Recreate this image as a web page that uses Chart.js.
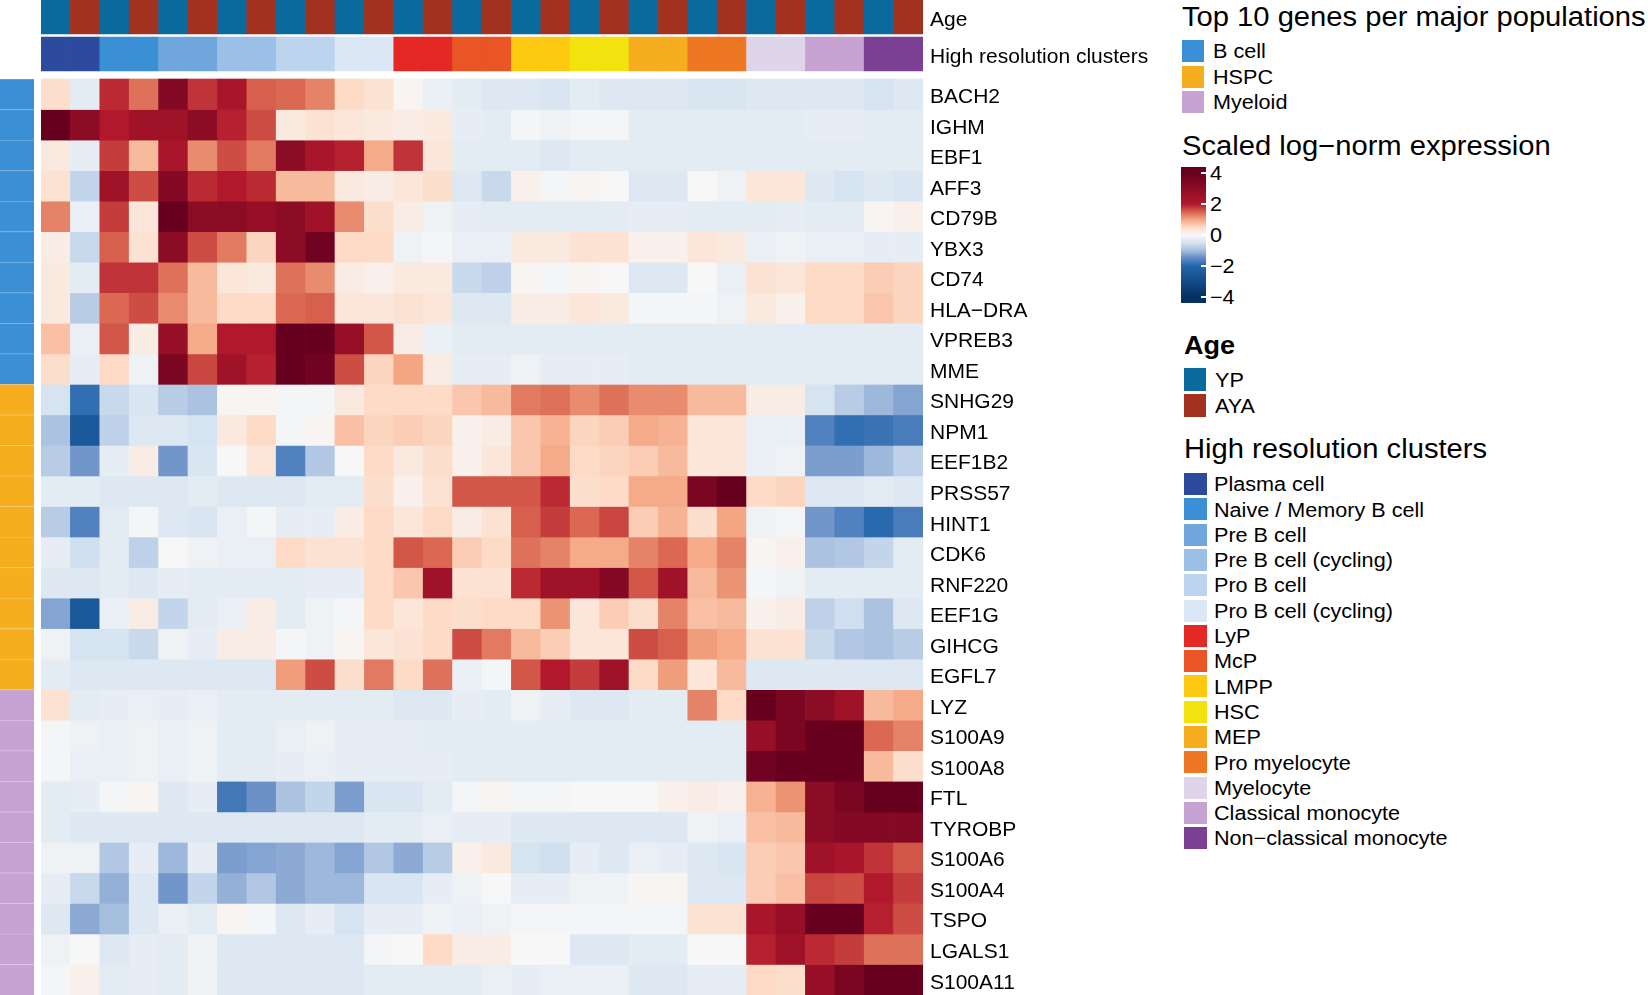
<!DOCTYPE html>
<html>
<head>
<meta charset="utf-8">
<script src="https://cdn.jsdelivr.net/npm/chart.js@4.4.1/dist/chart.umd.min.js"></script>
<style>
  body { margin: 0; background: #fff; font-family: "Liberation Sans", Arial, sans-serif; }
  #heat { position: absolute; left: 0; top: 0; }
  .lg { position: absolute; white-space: nowrap; line-height: 1; color: #000; transform: scaleX(1.08); transform-origin: 0 0; }
  .sw { position: absolute; }
</style>
</head>
<body>
<canvas id="heat" width="1160" height="995"></canvas>
<div id="legend"></div>
<script>
// genes (rows) and their major population
const genes = ['BACH2', 'IGHM', 'EBF1', 'AFF3', 'CD79B', 'YBX3', 'CD74', 'HLA\u2212DRA', 'VPREB3', 'MME',
  'SNHG29', 'NPM1', 'EEF1B2', 'PRSS57', 'HINT1', 'CDK6', 'RNF220', 'EEF1G', 'GIHCG', 'EGFL7',
  'LYZ', 'S100A9', 'S100A8', 'FTL', 'TYROBP', 'S100A6', 'S100A4', 'TSPO', 'LGALS1', 'S100A11'];
const populations = ['B cell', 'HSPC', 'Myeloid'];
const populationColors = ['#3A8FD5', '#F6AE1E', '#C7A3D4'];
const genePopulation = [0,0,0,0,0,0,0,0,0,0, 1,1,1,1,1,1,1,1,1,1, 2,2,2,2,2,2,2,2,2,2];

// columns: every cluster split in YP / AYA
const clusters = ['Plasma cell', 'Naive / Memory B cell', 'Pre B cell', 'Pre B cell (cycling)', 'Pro B cell',
  'Pro B cell (cycling)', 'LyP', 'McP', 'LMPP', 'HSC', 'MEP', 'Pro myelocyte', 'Myelocyte',
  'Classical monocyte', 'Non\u2212classical monocyte'];
const clusterColors = ['#2E4A9E', '#3A8FD5', '#6FA6DB', '#9BBFE6', '#BDD4EF', '#DCE7F5', '#E32826', '#E95525',
  '#FDCA11', '#F2E30F', '#F6AE1E', '#EE7723', '#DFD5EB', '#C7A3D4', '#7B3F94'];
const ages = ['YP', 'AYA'];
const ageColors = ['#0A6A9D', '#A2321F'];

// scaled log-norm expression, one row per gene, 30 columns
const expression = [
  [0.44,-0.31,1.88,1.38,3.25,1.81,2.25,1.5,1.44,1.25, 0.5,0.38,0.06,-0.19,-0.31,-0.38,-0.38,-0.44,-0.31,-0.38, -0.38,-0.38,-0.44,-0.44,-0.38,-0.38,-0.38,-0.38,-0.5,-0.38],
  [4.0,3.0,2.0,2.5,2.5,3.0,1.94,1.63,0.25,0.38, 0.31,0.25,0.19,0.25,-0.25,-0.31,-0.06,-0.13,-0.06,-0.06, -0.31,-0.31,-0.31,-0.31,-0.31,-0.31,-0.25,-0.25,-0.31,-0.31],
  [0.25,-0.25,1.75,0.81,2.25,1.19,1.63,1.31,3.0,2.25, 1.94,0.94,1.81,0.31,-0.31,-0.31,-0.31,-0.38,-0.31,-0.31, -0.31,-0.31,-0.31,-0.31,-0.31,-0.31,-0.31,-0.31,-0.31,-0.31],
  [0.38,-0.69,2.5,1.63,3.25,1.88,2.0,1.88,0.81,0.81, 0.25,0.19,0.31,0.44,-0.38,-0.63,0.13,-0.06,0.06,0.0, -0.38,-0.38,0.0,-0.13,0.31,0.31,-0.38,-0.5,-0.38,-0.44],
  [1.25,-0.19,1.75,0.31,4.0,3.0,3.0,2.75,3.0,2.5, 1.19,0.44,0.19,-0.13,-0.25,-0.31,-0.31,-0.31,-0.31,-0.31, -0.25,-0.25,-0.31,-0.31,-0.31,-0.25,-0.31,-0.31,0.06,0.13],
  [0.19,-0.63,1.5,0.38,3.0,1.63,1.31,0.56,3.0,3.75, 0.5,0.5,-0.13,-0.06,-0.19,-0.19,0.25,0.25,0.38,0.38, 0.13,0.13,0.31,0.25,-0.19,-0.13,-0.19,-0.19,-0.25,-0.25],
  [0.25,-0.31,1.81,1.81,1.38,0.81,0.31,0.25,1.38,1.19, 0.19,0.13,0.25,0.25,-0.63,-0.75,0.06,-0.06,0.06,0.0, -0.38,-0.38,0.0,-0.19,0.38,0.31,0.5,0.5,0.63,0.56],
  [0.25,-0.81,1.44,1.63,1.19,0.81,0.5,0.5,1.44,1.5, 0.31,0.31,0.38,0.31,-0.38,-0.38,0.19,0.19,0.31,0.25, -0.06,-0.06,-0.06,-0.13,0.25,0.13,0.5,0.5,0.69,0.56],
  [0.75,-0.19,1.56,0.19,2.75,0.94,2.0,2.0,4.0,4.0, 2.75,1.56,0.19,-0.19,-0.31,-0.31,-0.31,-0.31,-0.31,-0.31, -0.31,-0.31,-0.31,-0.31,-0.31,-0.31,-0.31,-0.31,-0.31,-0.31],
  [0.44,-0.25,0.5,-0.13,3.5,1.69,2.5,1.94,4.0,3.75, 1.63,0.56,1.0,0.19,-0.25,-0.25,-0.13,-0.25,-0.25,-0.25, -0.31,-0.31,-0.31,-0.31,-0.31,-0.31,-0.31,-0.31,-0.31,-0.31],
  [-0.5,-1.88,-0.63,-0.44,-0.81,-0.94,0.06,0.06,-0.06,-0.06, 0.25,0.5,0.5,0.5,0.69,0.81,1.31,1.38,1.19,1.38, 1.19,1.19,0.81,0.81,0.19,0.19,-0.5,-0.81,-1.06,-1.25],
  [-0.94,-2.5,-0.75,-0.38,-0.38,-0.5,0.25,0.5,-0.06,0.06, 0.75,0.56,0.63,0.56,0.13,0.19,0.69,0.88,0.56,0.63, 0.94,0.88,0.31,0.31,-0.19,-0.19,-1.63,-1.88,-1.81,-1.69],
  [-0.81,-1.38,-0.25,0.19,-1.38,-0.44,0.0,0.31,-1.63,-0.88, 0.0,0.5,0.25,0.44,0.13,0.31,0.69,0.94,0.5,0.56, 0.63,0.81,0.31,0.31,-0.19,-0.13,-1.31,-1.31,-1.06,-0.75],
  [-0.31,-0.31,-0.38,-0.38,-0.38,-0.31,-0.38,-0.38,-0.38,-0.31, -0.31,0.44,0.13,0.38,1.56,1.56,1.56,1.88,0.44,0.5, 0.94,0.94,3.5,4.0,0.5,0.56,-0.38,-0.38,-0.31,-0.38],
  [-0.81,-1.63,-0.31,-0.06,-0.38,-0.44,-0.19,-0.06,-0.25,-0.25, 0.19,0.5,0.31,0.5,0.19,0.38,1.5,1.75,1.44,1.69, 0.63,0.88,0.44,1.0,-0.13,-0.06,-1.38,-1.63,-1.94,-1.69],
  [-0.25,-0.56,-0.31,-0.75,0.0,-0.13,-0.19,-0.19,0.5,0.38, 0.38,0.5,1.56,1.44,0.63,0.5,1.38,1.25,0.94,0.94, 1.25,1.44,0.94,1.25,0.06,0.13,-0.94,-0.88,-0.69,-0.31],
  [-0.38,-0.38,-0.31,-0.38,-0.25,-0.31,-0.31,-0.31,-0.31,-0.25, -0.25,0.5,0.69,2.5,0.38,0.38,1.88,2.5,2.5,3.25, 1.56,2.5,0.81,1.13,-0.06,-0.13,-0.31,-0.31,-0.31,-0.31],
  [-1.25,-2.5,-0.19,0.19,-0.69,-0.31,-0.19,0.19,-0.31,-0.13, -0.06,0.5,0.31,0.5,0.44,0.5,0.5,1.13,0.31,0.63, 0.44,1.25,0.75,0.81,0.13,0.19,-0.75,-0.56,-0.94,-0.38],
  [-0.13,-0.5,-0.5,-0.63,-0.13,-0.25,0.19,0.19,-0.06,-0.13, 0.06,0.31,0.38,0.5,1.63,1.31,0.81,0.63,0.31,0.31, 1.63,1.5,1.06,0.94,0.38,0.38,-0.63,-0.88,-0.94,-0.81],
  [-0.31,-0.38,-0.38,-0.38,-0.38,-0.38,-0.38,-0.38,1.06,1.63, 0.44,1.31,0.5,1.38,-0.19,-0.06,1.56,2.0,1.75,2.5, 0.5,1.06,0.31,0.81,-0.38,-0.38,-0.38,-0.38,-0.38,-0.38],
  [0.38,-0.31,-0.25,-0.19,-0.25,-0.19,-0.31,-0.31,-0.31,-0.31, -0.31,-0.31,-0.38,-0.38,-0.25,-0.31,-0.13,-0.25,-0.38,-0.38, -0.31,-0.31,1.25,0.5,4.0,3.5,3.0,2.5,0.81,0.94],
  [-0.06,-0.13,-0.19,-0.13,-0.19,-0.13,-0.31,-0.31,-0.19,-0.13, -0.25,-0.25,-0.25,-0.31,-0.31,-0.31,-0.31,-0.31,-0.31,-0.31, -0.31,-0.31,-0.31,-0.31,2.75,3.5,4.0,4.0,1.44,1.25],
  [-0.06,-0.19,-0.19,-0.13,-0.19,-0.13,-0.31,-0.31,-0.25,-0.19, -0.25,-0.25,-0.25,-0.25,-0.31,-0.31,-0.31,-0.31,-0.31,-0.31, -0.31,-0.31,-0.31,-0.31,3.75,4.0,4.0,4.0,0.81,0.44],
  [-0.31,-0.25,-0.06,0.06,-0.38,-0.25,-1.75,-1.44,-0.94,-0.69, -1.31,-0.44,-0.44,-0.31,-0.06,0.06,-0.06,-0.06,0.0,0.0, 0.0,0.13,0.19,0.13,0.88,1.13,3.0,3.5,4.0,4.0],
  [-0.31,-0.38,-0.38,-0.38,-0.38,-0.38,-0.38,-0.38,-0.38,-0.38, -0.38,-0.31,-0.31,-0.19,-0.25,-0.25,-0.38,-0.38,-0.38,-0.38, -0.38,-0.38,-0.13,-0.19,0.75,0.81,3.0,3.25,3.25,3.25],
  [-0.13,-0.13,-0.88,-0.25,-1.06,-0.25,-1.31,-1.25,-1.19,-1.06, -1.25,-0.88,-1.19,-0.81,0.13,0.25,-0.5,-0.56,-0.25,-0.38, -0.19,-0.25,-0.38,-0.44,0.63,0.69,2.5,2.25,1.81,1.56],
  [-0.25,-0.63,-1.13,-0.38,-1.38,-0.69,-1.13,-0.88,-1.19,-1.06, -1.06,-0.44,-0.44,-0.25,-0.13,0.0,-0.25,-0.25,-0.13,-0.13, 0.06,0.06,-0.38,-0.38,0.63,0.75,1.69,1.63,2.0,1.75],
  [-0.38,-1.19,-1.0,-0.38,-0.19,-0.31,0.06,-0.06,-0.38,-0.25, -0.5,-0.25,-0.25,-0.13,-0.19,-0.13,-0.06,-0.06,-0.06,-0.06, -0.06,-0.06,0.38,0.38,2.25,2.75,4.0,4.0,1.94,1.63],
  [-0.13,0.0,-0.38,-0.25,-0.31,-0.13,-0.38,-0.38,-0.38,-0.38, -0.38,-0.06,0.0,0.5,0.19,0.19,0.0,0.0,-0.38,-0.38, -0.31,-0.31,0.0,0.0,1.94,2.5,1.88,1.75,1.38,1.38],
  [-0.06,0.13,-0.31,-0.25,-0.31,-0.13,-0.38,-0.38,-0.38,-0.38, -0.38,-0.31,-0.31,-0.31,-0.31,-0.19,-0.25,-0.19,-0.19,-0.19, -0.38,-0.38,-0.25,-0.25,0.5,0.44,2.75,3.5,4.0,4.0]
];

// colour scale
const scaleBreaks = [-4, -2, -1.5, -1, -0.5, 0, 0.5, 1, 1.5, 2, 4];
const scaleColors = ['#053061', '#2166AC', '#628AC4', '#A5BEDE', '#D6E3F1', '#F7F7F7', '#FDDBC7', '#F4A582', '#D6604D', '#B2182B', '#67001F'];
const scaleTicks = [4, 2, 0, -2, -4];

function hexRgb(h) { return [1, 3, 5].map(i => parseInt(h.substr(i, 2), 16)); }
function colorFor(v) {
  v = Math.max(-4, Math.min(4, v));
  let i = 0;
  while (i < scaleBreaks.length - 2 && v > scaleBreaks[i + 1]) i++;
  const t = (v - scaleBreaks[i]) / (scaleBreaks[i + 1] - scaleBreaks[i]);
  const a = hexRgb(scaleColors[i]), b = hexRgb(scaleColors[i + 1]);
  return 'rgb(' + a.map((c, k) => Math.round(c + (b[k] - c) * t)).join(',') + ')';
}

// row units on the y scale (one heatmap row = 1)
const ROW = 30.53;
const AGE_H = 34 / ROW, GAP1 = 3 / ROW, CL_H = 34 / ROW, GAP2 = 8 / ROW;
const TOP = AGE_H + GAP1 + CL_H + GAP2;

const columnLabels = [];
const columnAgeColors = [];
const columnClusterColors = [];
clusters.forEach((c, i) => ages.forEach((a, j) => {
  columnLabels.push(c + ' ' + a);
  columnAgeColors.push(ageColors[j]);
  columnClusterColors.push(clusterColors[i]);
}));
const nCol = columnLabels.length;

const datasets = [
  { label: 'Age', data: Array(nCol).fill(AGE_H), backgroundColor: columnAgeColors },
  { label: 'gap1', data: Array(nCol).fill(GAP1), backgroundColor: 'rgba(0,0,0,0)' },
  { label: 'High resolution clusters', data: Array(nCol).fill(CL_H), backgroundColor: columnClusterColors },
  { label: 'gap2', data: Array(nCol).fill(GAP2), backgroundColor: 'rgba(0,0,0,0)' }
];
genes.forEach((g, r) => {
  datasets.push({ label: g, data: Array(nCol).fill(1), backgroundColor: expression[r].map(colorFor) });
});

const tickLabels = ['Age', 'High resolution clusters'].concat(genes);
const tickValues = [AGE_H / 2, AGE_H + GAP1 + CL_H / 2].concat(genes.map((g, r) => TOP + r + 0.5));

// left annotation bar with the major population of each gene
const populationBar = {
  id: 'populationBar',
  afterDatasetsDraw(chart) {
    const y = chart.scales.y, ctx = chart.ctx;
    ctx.save();
    genes.forEach((g, r) => {
      const y0 = y.getPixelForValue(TOP + r), y1 = y.getPixelForValue(TOP + r + 1);
      ctx.fillStyle = populationColors[genePopulation[r]];
      ctx.fillRect(0, y0, 34, y1 - y0);
      ctx.fillStyle = 'rgba(255,255,255,0.25)';
      ctx.fillRect(0, y0, 34, 0.6);
    });
    ctx.restore();
  }
};

new Chart(document.getElementById('heat'), {
  type: 'bar',
  data: { labels: columnLabels, datasets: datasets },
  options: {
    responsive: false,
    devicePixelRatio: 1,
    animation: false,
    events: [],
    layout: { padding: { left: 41, top: 0, bottom: 0, right: 0 } },
    datasets: { bar: { barPercentage: 1, categoryPercentage: 1, borderWidth: 0 } },
    plugins: { legend: { display: false }, tooltip: { enabled: false } },
    scales: {
      x: { stacked: true, display: false },
      y: {
        type: 'linear', stacked: true, reverse: true, min: 0, max: TOP + genes.length,
        position: 'right',
        grid: { display: false, drawTicks: false },
        border: { display: false },
        afterBuildTicks: s => { s.ticks = tickValues.map(v => ({ value: v })); },
        afterFit: s => { s.width = 237; s.paddingTop = 0; s.paddingBottom = 0; },
        ticks: {
          autoSkip: false, padding: 7, color: '#000', labelOffset: 3,
          font: { family: '"Liberation Sans", Arial, sans-serif', size: 21 },
          callback: (v, i) => tickLabels[i]
        }
      }
    }
  },
  plugins: [populationBar]
});

// legends on the right
const lg = document.getElementById('legend');
function text(s, x, capMid, size, bold) {
  const d = document.createElement('div');
  d.className = 'lg';
  d.textContent = s;
  d.style.left = x + 'px';
  d.style.top = (capMid - 0.488 * size) + 'px';
  d.style.fontSize = size + 'px';
  if (bold) d.style.fontWeight = 'bold';
  lg.appendChild(d);
}
function swatch(color, x, y, w, h) {
  const d = document.createElement('div');
  d.className = 'sw';
  d.style.cssText += `left:${x}px;top:${y}px;width:${w}px;height:${h}px;background:${color}`;
  lg.appendChild(d);
}

text('Top 10 genes per major populations', 1182, 17, 27);
populations.forEach((p, i) => {
  const y = 40 + i * 25.5;
  swatch(populationColors[i], 1182, y, 22, 22);
  text(p, 1213, y + 11, 20);
});

text('Scaled log\u2212norm expression', 1182, 146, 27);
const barTop = 167, barBot = 303, t4 = 173, tm4 = 297;
const grad = scaleBreaks.slice().reverse().map((v, i) => {
  const y = t4 + (4 - v) / 8 * (tm4 - t4) - barTop;
  return scaleColors[scaleColors.length - 1 - i] + ' ' + (y / (barBot - barTop) * 100).toFixed(2) + '%';
});
swatch('linear-gradient(to bottom, #67001F 0%, ' + grad.join(', ') + ', #053061 100%)', 1181, barTop, 25, barBot - barTop);
scaleTicks.forEach(v => {
  const y = t4 + (4 - v) / 8 * (tm4 - t4);
  swatch('#fff', 1201, y - 1, 6, 2);
  text(String(v).replace('-', '\u2212'), 1210, y, 20);
});

text('Age', 1184, 345.5, 25, true);
ages.forEach((a, i) => {
  const y = 368 + i * 26;
  swatch(ageColors[i], 1184, y, 22, 23);
  text(a, 1215, y + 11.5, 20);
});

text('High resolution clusters', 1184, 449.5, 27);
clusters.forEach((c, i) => {
  const y = 473 + i * 25.3;
  swatch(clusterColors[i], 1184, y, 23, 22);
  text(c, 1214, y + 11, 20);
});
</script>
</body>
</html>
